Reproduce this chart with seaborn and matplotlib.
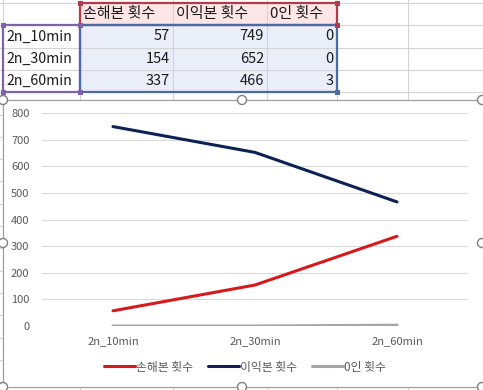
import matplotlib
matplotlib.use('Agg')
import matplotlib.pyplot as plt
import matplotlib.patches as mpatches
import pandas as pd
import seaborn as sns

categories = ['2n_10min', '2n_30min', '2n_60min']
series_names = ['손해본 횟수', '이익본 횟수', '0인 횟수']
loss_counts = [57, 154, 337]
gain_counts = [749, 652, 466]
zero_counts = [0, 0, 3]
colors = ['#D7191C', '#0C2254', '#A6A6A6']

df = pd.DataFrame({
    '구간': categories * 3,
    '항목': [n for n in series_names for _ in categories],
    '횟수': loss_counts + gain_counts + zero_counts,
})

sns.set_style('white')
plt.rcParams['font.family'] = ['Noto Sans CJK KR', 'DejaVu Sans']

W, H = 483, 390
fig = plt.figure(figsize=(W / 100, H / 100), dpi=100)

# spreadsheet background in pixel coords
bg = fig.add_axes([0, 0, 1, 1])
bg.set_xlim(0, W)
bg.set_ylim(H, 0)
bg.axis('off')

grid_c = '#D4D4D4'
col_x = [3, 80, 173, 267, 337, 408]
row_h = 22.3
row_y = [3 + row_h * k for k in range(18)]

# fills
bg.add_patch(mpatches.Rectangle((80, 3), 257, 22.3, facecolor='#FCE6E6', edgecolor='none', zorder=0))
bg.add_patch(mpatches.Rectangle((80, 25.3), 257, 66.9, facecolor='#E9EEF8', edgecolor='none', zorder=0))

for x in col_x:
    bg.plot([x, x], [0, H], color=grid_c, lw=0.8, zorder=1)
for y in row_y:
    bg.plot([0, W], [y, y], color=grid_c, lw=0.8, zorder=1)

# table text
for name, x in zip(series_names, [83, 176, 270]):
    bg.text(x, 14, name, fontsize=10.8, va='center', ha='left', color='#1A1A1A', zorder=3)
value_cols = [loss_counts, gain_counts, zero_counts]
for i, cat in enumerate(categories):
    yc = 25.3 + row_h * (i + 0.5)
    bg.text(6, yc, cat, fontsize=10.2, va='center', ha='left', color='#1A1A1A', zorder=3)
    for vals, xr in zip(value_cols, [170, 264, 334]):
        bg.text(xr, yc, str(vals[i]), fontsize=10.5, va='center', ha='right', color='#1A1A1A', zorder=3)

# range highlight borders + handles
ranges = [((80, 3, 337, 25.3), '#B23A4A'),
          ((3, 25.3, 80, 92.2), '#8062A6'),
          ((80, 25.3, 337, 92.2), '#4A6AA8')]
for (x0, y0, x1, y1), c in ranges:
    bg.add_patch(mpatches.Rectangle((x0, y0), x1 - x0, y1 - y0, facecolor='none',
                                    edgecolor=c, lw=1.6, zorder=4))
squares = [((80, 3), '#B23A4A'), ((337, 3), '#B23A4A'), ((337, 25.3), '#B23A4A'),
           ((3, 25.3), '#8062A6'), ((80, 25.3), '#8062A6'), ((3, 92.2), '#8062A6'),
           ((80, 92.2), '#8062A6'), ((337, 92.2), '#4A6AA8')]
for (sx, sy), c in squares:
    bg.add_patch(mpatches.Rectangle((sx - 2.5, sy - 2.5), 5, 5, facecolor=c, edgecolor='none', zorder=5))

# chart area
bg.add_patch(mpatches.Rectangle((3, 100), 490, 287, facecolor='white', edgecolor='#A0A0A0',
                                lw=0.9, zorder=6))
for hx, hy in [(3, 100), (242, 100), (482, 100), (3, 243), (482, 243),
               (3, 387), (242, 387), (482, 387)]:
    bg.add_patch(mpatches.Circle((hx, hy), 4.5, facecolor='white', edgecolor='#808080',
                                 lw=1.0, zorder=7))

ax = fig.add_axes([42 / W, 1 - 326 / H, 426 / W, 213 / H])
ax.patch.set_alpha(0)
sns.lineplot(data=df, x='구간', y='횟수', hue='항목', hue_order=series_names,
             palette=colors, linewidth=2.2, ax=ax, legend=True, sort=False)
ax.set_xlim(-0.5, 2.5)
ax.set_ylim(0, 800)
ax.set_yticks(range(0, 801, 100))
ax.set_xlabel('')
ax.set_ylabel('')
ax.grid(axis='y', color='#D9D9D9', lw=0.75)
ax.set_axisbelow(True)
for s in ax.spines.values():
    s.set_visible(False)
ax.tick_params(axis='both', length=0, labelsize=8, labelcolor='#595959')
ax.tick_params(axis='y', pad=9)
ax.tick_params(axis='x', pad=7)

handles, labels = ax.get_legend_handles_labels()
ax.get_legend().remove()
fig.legend(handles, labels, loc='center', bbox_to_anchor=(245 / W, 1 - 367 / H), ncol=3,
           frameon=False, fontsize=8.5, labelcolor='#595959', handlelength=2.6,
           handletextpad=0.1, columnspacing=1.3)

fig.savefig('out.png', dpi=100)
